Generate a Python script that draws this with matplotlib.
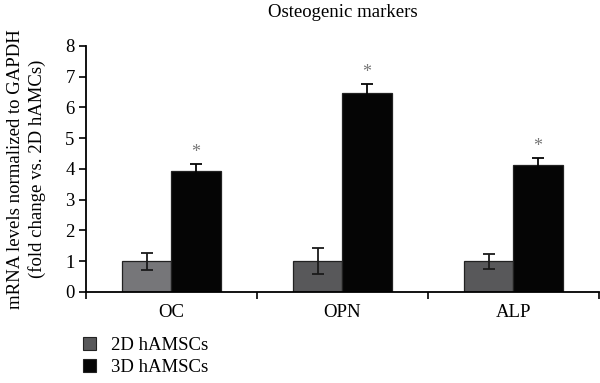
import matplotlib
matplotlib.use("Agg")
import matplotlib.pyplot as plt
import numpy as np
from matplotlib.patches import Patch

plt.rcParams['font.family'] = ['Liberation Serif', 'DejaVu Serif']

categories = ["OC", "OPN", "ALP"]
series_names = ["2D hAMSCs", "3D hAMSCs"]
vals_2d = [1.0, 1.0, 1.0]
err_2d = [0.28, 0.42, 0.24]
vals_3d = [3.95, 6.46, 4.12]
err_3d = [0.20, 0.30, 0.25]
colors_2d = ["#767679", "#58585a", "#58585a"]
color_3d = "#050505"
sig_labels = ["*", "*", "*"]

FS = 13.5

fig = plt.figure(figsize=(6.0, 3.83), dpi=100)
ax = fig.add_axes([0.143, 0.2376, 0.855, 0.6424])

x = np.arange(len(categories))
w = 0.29
ax.bar(x - w/2, vals_2d, w, color=colors_2d, edgecolor="#222222", linewidth=0.9,
       yerr=err_2d, error_kw=dict(ecolor="#1a1a1a", elinewidth=1.3, capsize=4, capthick=1.3))
ax.bar(x + w/2, vals_3d, w, color=color_3d, edgecolor="#222222", linewidth=0.9,
       yerr=err_3d, error_kw=dict(ecolor=color_3d, elinewidth=1.3, capsize=4, capthick=1.3))

for xi, v, e, s in zip(x, vals_3d, err_3d, sig_labels):
    ax.text(xi + w/2, v + e + 0.1, s, ha="center", va="bottom", fontsize=13, color="#777777")

ax.set_xlim(-0.5, 2.5)
ax.set_ylim(0, 8)
ax.set_yticks(range(0, 9))
ax.set_xticks([-0.5, 0.5, 1.5, 2.5], minor=False)
ax.set_xticklabels([])
ax.set_xticks(x, minor=True)
ax.set_xticklabels(categories, minor=True)
ax.tick_params(axis="x", which="minor", length=0, pad=9, labelsize=FS)
ax.tick_params(axis="x", which="major", length=5, width=1.2, direction="out")
ax.tick_params(axis="y", length=5, width=1.2, direction="out", labelsize=FS, pad=3)
for sp in ["top", "right"]:
    ax.spines[sp].set_visible(False)
ax.spines["left"].set_linewidth(1.3)
ax.spines["bottom"].set_linewidth(1.3)

ax.set_ylabel("mRNA levels normalized to GAPDH\n(fold change vs. 2D hAMCs)", fontsize=FS,
              linespacing=1.3, labelpad=14)
fig.text(0.572, 0.968, "Osteogenic markers", ha="center", va="center", fontsize=FS)

handles = [Patch(facecolor="#58585a", edgecolor="#222222", linewidth=0.8),
           Patch(facecolor=color_3d, edgecolor="#222222", linewidth=0.8)]
fig.legend(handles, series_names, loc="upper left", bbox_to_anchor=(0.125, 0.14),
           frameon=False, fontsize=FS, handlelength=0.7, handleheight=0.7,
           handletextpad=0.8, labelspacing=0.25, borderaxespad=0)

fig.savefig("out.png", dpi=100)
